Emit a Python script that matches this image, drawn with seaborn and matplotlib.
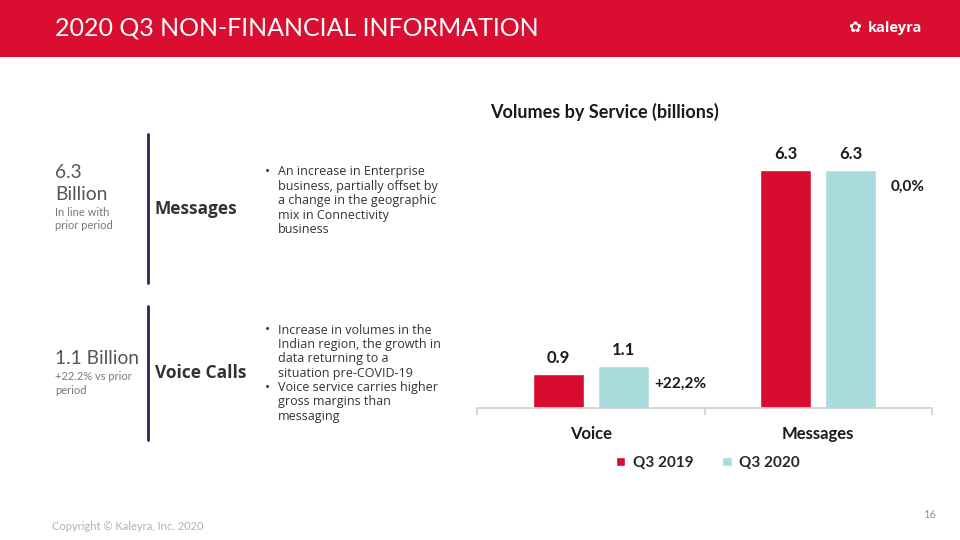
import pandas as pd
import matplotlib.pyplot as plt
import seaborn as sns
from matplotlib.patches import Rectangle

# Дані графіка
services = ['Voice', 'Messages']
quarters = ['Q3 2019', 'Q3 2020']
q3_2019 = [0.9, 6.3]
q3_2020 = [1.1, 6.3]
changes = ['+22,2%', '0,0%']

RED = '#D80C2E'
TEAL = '#A9DBDC'
DARK = '#1A1A1A'

df = pd.DataFrame({
    'service': services * 2,
    'quarter': [quarters[0]] * 2 + [quarters[1]] * 2,
    'value': q3_2019 + q3_2020,
})

sns.set_theme(style='white')
plt.rcParams['font.family'] = ['Open Sans', 'DejaVu Sans']
CHART_FONT = ['Lato', 'DejaVu Sans']

fig = plt.figure(figsize=(9.6, 5.4), dpi=100)

# шапка слайду
fig.patches.append(Rectangle((0, 1 - 57 / 540), 1, 57 / 540, transform=fig.transFigure,
                             facecolor='#D90E30', edgecolor='none', zorder=0))
fig.text(55 / 960, 1 - 28 / 540, '2020 Q3 NON-FINANCIAL INFORMATION', color='white',
         fontsize=18, family='Lato', va='center', ha='left')
fig.text(868 / 960, 1 - 28 / 540, 'kaleyra', color='white', fontsize=10.5,
         fontweight='bold', va='center', ha='left')
fig.text(855 / 960, 1 - 28 / 540, '\u273F', color='white', fontsize=11,
         family='DejaVu Sans', va='center', ha='center')

# ліва панель
left_blocks = [
    (172, ['6.3', 'Billion'], ['In line with', 'prior period'], 'Messages', 209, (134, 283),
     ['An increase in Enterprise', 'business, partially offset by', 'a change in the geographic',
      'mix in Connectivity', 'business'], [172]),
    (359, ['1.1 Billion'], ['+22.2% vs prior', 'period'], 'Voice Calls', 373, (306, 440),
     ['Increase in volumes in the', 'Indian region, the growth in', 'data returning to a',
      'situation pre-COVID-19', 'Voice service carries higher', 'gross margins than',
      'messaging'], [330, 388]),
]
for y0, big, small, label, ylab, (ya, yb), bullets, dots in left_blocks:
    y = y0
    for line in big:
        fig.text(55 / 960, 1 - y / 540, line, color='#555555', fontsize=13.8,
                 family='Lato', va='center')
        y += 22
    y = y0 + (len(big) - 1) * 22 + 18
    for line in small:
        fig.text(55 / 960, 1 - y / 540, line, color='#777777', fontsize=8,
                 family='Lato', va='center')
        y += 13
    fig.add_artist(plt.Line2D([148 / 960, 148 / 960], [1 - ya / 540, 1 - yb / 540],
                              color='#1F2A55', lw=2, transform=fig.transFigure))
    fig.text(155 / 960, 1 - ylab / 540, label, color='#333333', fontsize=12.5,
             fontweight='bold', va='center')
    y = dots[0]
    for line in bullets:
        fig.text(278 / 960, 1 - y / 540, line, color='#333333', fontsize=9,
                 va='center')
        y += 14.4
    for d in dots:
        fig.text(267 / 960, 1 - d / 540, '\u2022', color='#333333', fontsize=10,
                 va='center', ha='center')

# графік
ax = fig.add_axes([477 / 960, 1 - 408 / 540, 455 / 960, 264.6 / 540])
sns.barplot(data=df, x='service', y='value', hue='quarter', order=services,
            hue_order=quarters, palette=[RED, TEAL], width=0.573, gap=0.215,
            saturation=1, ax=ax, legend=True)
ax.set_ylim(0, 7)
ax.set_xlim(-0.5, 1.5)
ax.set_xlabel('')
ax.set_ylabel('')
ax.set_yticks([])
for s in ['top', 'left', 'right']:
    ax.spines[s].set_visible(False)
ax.spines['bottom'].set_color('#D0D0D0')
ax.spines['bottom'].set_linewidth(1.2)
ax.set_xticks([-0.5, 0.5, 1.5], minor=True)
ax.tick_params(axis='x', which='minor', length=5, color='#D0D0D0', width=1.2, bottom=True)
ax.tick_params(axis='x', which='major', length=0, pad=13)
for t in ax.get_xticklabels():
    t.set_fontweight('bold')
    t.set_fontsize(12)
    t.set_color(DARK)
    t.set_family(CHART_FONT)

for cont in ax.containers:
    ax.bar_label(cont, fmt='%.1f', padding=6, fontsize=12, fontweight='bold', color=DARK,
                 family=CHART_FONT)

# відсоткові зміни біля стовпців Q3 2020
for bar, txt in zip(ax.containers[1], changes):
    ax.annotate(txt, (bar.get_x() + bar.get_width(), bar.get_height()),
                xytext=(31, -17), textcoords='offset pixels',
                ha='center', va='center', fontsize=11, fontweight='bold', color=DARK,
                family=CHART_FONT)

fig.text(604 / 960, 1 - 112 / 540, 'Volumes by Service (billions)', ha='center',
         va='center', fontsize=13, fontweight='bold', color=DARK, family=CHART_FONT)

handles, labels = ax.get_legend_handles_labels()
ax.legend(handles, labels, loc='center', bbox_to_anchor=(708 / 960, 1 - 463 / 540),
          bbox_transform=fig.transFigure, ncol=2, frameon=False, handlelength=0.6,
          handleheight=0.6, handletextpad=0.5, columnspacing=1.9,
          prop={'weight': 'bold', 'size': 11, 'family': CHART_FONT})

# нижній колонтитул
fig.text(52 / 960, 1 - 527 / 540, 'Copyright \u00a9 Kaleyra, Inc. 2020', color='#B0B0B0',
         fontsize=8, family='Lato', va='center')
fig.text(936 / 960, 1 - 515 / 540, '16', color='#999999', fontsize=8, family='Lato',
         va='center', ha='right')

fig.savefig('out.png', dpi=100)
